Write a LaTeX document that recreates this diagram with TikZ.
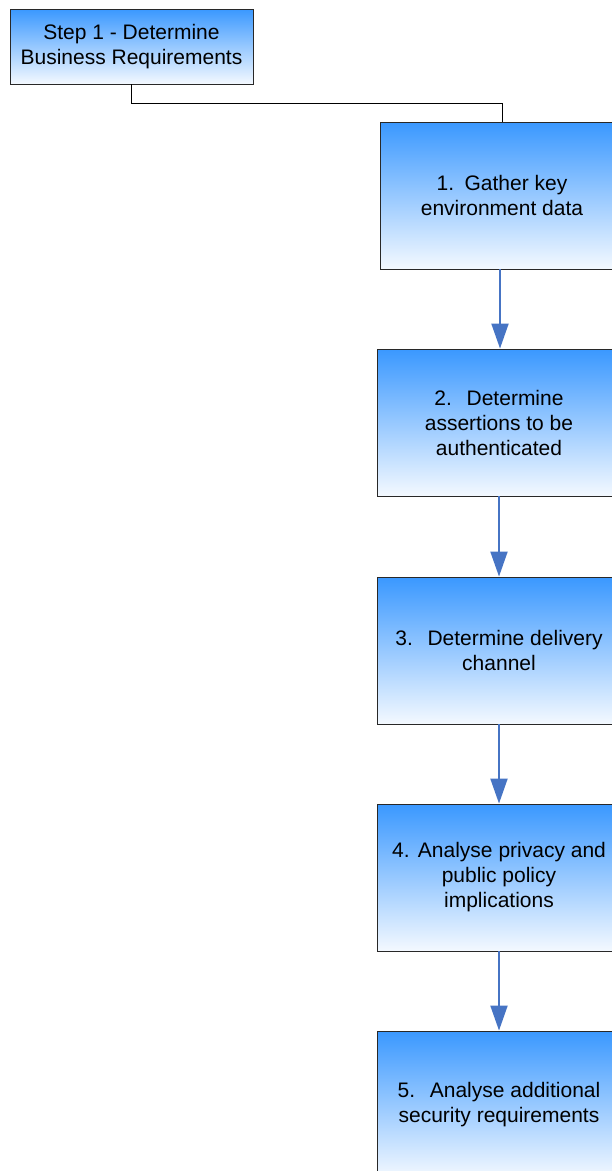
\documentclass[tikz,border=0pt]{standalone}
\usepackage{fontspec}
\setmainfont{Liberation Sans}
\usetikzlibrary{arrows.meta}
\definecolor{topblue}{RGB}{58,152,255}
\definecolor{botblue}{RGB}{244,249,255}
\definecolor{arrblue}{RGB}{70,116,196}
\definecolor{bordergray}{RGB}{40,40,40}
\tikzset{
  box/.style={draw=bordergray, line width=0.9pt, top color=topblue, bottom color=botblue,
    minimum width=244pt, minimum height=147pt, inner sep=0pt, align=center,
    font=\fontsize{21}{25}\selectfont},
  stepbox/.style={box, minimum width=243pt, minimum height=75pt},
  link/.style={draw=black, line width=0.8pt},
  flow/.style={draw=arrblue, line width=2pt, -{Triangle[width=17pt,length=25pt]}}
}
\begin{document}
\begin{tikzpicture}[x=1pt,y=-1pt]
\useasboundingbox (0,0) rectangle (612,1171);
\clip (0,0) rectangle (612,1171);
\node[stepbox] (s) at (131.5,46.5) {Step 1 - Determine\\Business Requirements};
\node[box] (b1) at (502,195.5) {1.\hspace{0.5em}Gather key\\environment data};
\node[box] (b2) at (499,422.5) {2.\hspace{0.7em}Determine\\assertions to be\\authenticated};
\node[box] (b3) at (499,650.5) {3.\hspace{0.7em}Determine delivery\\channel};
\node[box] (b4) at (499,877.5) {4.\hspace{0.4em}Analyse privacy and\\public policy\\implications};
\node[box] (b5) at (499,1104.5) {5.\hspace{0.7em}Analyse additional\\security requirements};
\draw[link] (s.south) -- ++(0,19) -| (b1.north);
\draw[flow] (b1.south -| 500,0) -- (b2.north -| 500,0);
\draw[flow] (b2.south) -- (b3.north);
\draw[flow] (b3.south) -- (b4.north);
\draw[flow] (b4.south) -- (b5.north);
\end{tikzpicture}
\end{document}
